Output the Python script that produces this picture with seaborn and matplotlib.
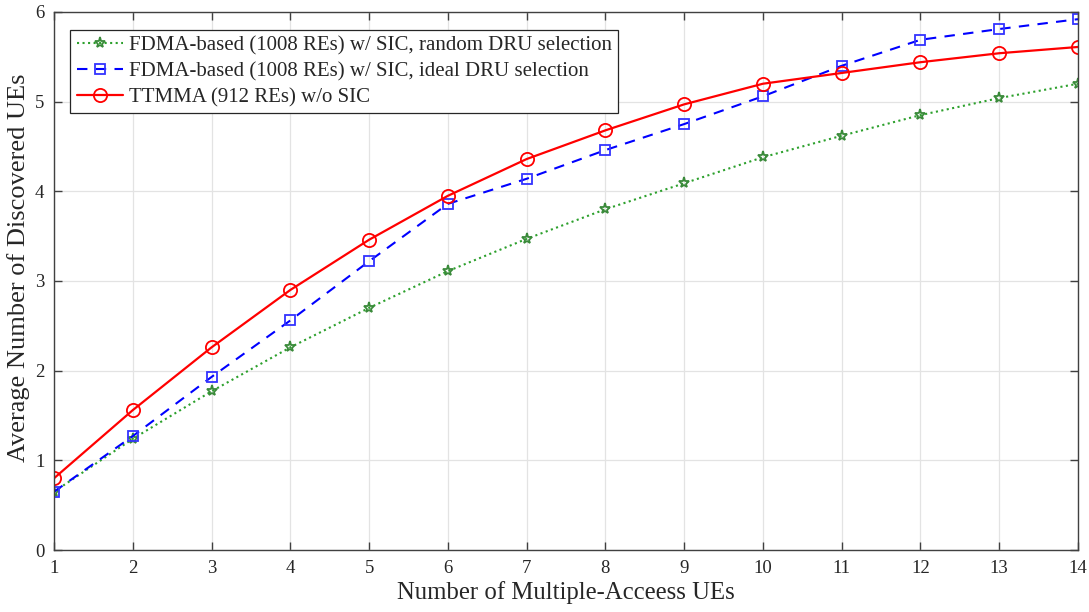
import numpy as np
import pandas as pd
import matplotlib
matplotlib.use("Agg")
import matplotlib.pyplot as plt
import seaborn as sns

x_vals = list(range(1, 15))
random_dru = [0.65, 1.24, 1.77, 2.26, 2.70, 3.11, 3.47, 3.80, 4.09, 4.38, 4.62, 4.85, 5.04, 5.20]
ideal_dru = [0.65, 1.27, 1.93, 2.56, 3.22, 3.86, 4.14, 4.46, 4.75, 5.06, 5.40, 5.69, 5.81, 5.92]
ttmma = [0.80, 1.56, 2.26, 2.90, 3.46, 3.95, 4.36, 4.68, 4.97, 5.20, 5.32, 5.44, 5.54, 5.61]
labels = ["FDMA-based (1008 REs) w/ SIC, random DRU selection",
          "FDMA-based (1008 REs) w/ SIC, ideal DRU selection",
          "TTMMA (912 REs) w/o SIC"]

sns.set_theme(style="whitegrid")
plt.rcParams['font.family'] = ['Liberation Serif', 'DejaVu Serif']

fig = plt.figure(figsize=(10.89, 6.12), dpi=100)
ax = fig.add_axes([0.0496, 0.1013, 0.9403, 0.8791])

df = pd.DataFrame({"x": x_vals * 3,
                   "y": random_dru + ideal_dru + ttmma,
                   "s": [labels[0]] * 14 + [labels[1]] * 14 + [labels[2]] * 14})

styles = [
    dict(color="#2ca02c", ls=":", marker="*", ms=8, mfc="none", mec="#3a8a3a", lw=1.5),
    dict(color="#0000ff", ls=(0, (5, 4)), marker="s", ms=6.5, mfc="none", mec="#3333ff", lw=1.5),
    dict(color="#ff0000", ls="-", marker="o", ms=9.5, mfc="none", mec="#ff0000", lw=1.6),
]
for lab, st in zip(labels, styles):
    sub = df[df.s == lab]
    sns.lineplot(data=sub, x="x", y="y", ax=ax, label=lab, color=st["color"],
                 linestyle=st["ls"], marker=st["marker"], markersize=st["ms"],
                 markerfacecolor=st["mfc"], markeredgecolor=st["mec"],
                 markeredgewidth=1.3, linewidth=st["lw"])

ax.set_xlim(1, 14)
ax.set_ylim(0, 6)
ax.set_xticks(range(1, 15))
ax.set_yticks(range(0, 7))
ax.set_facecolor("white")
ax.grid(True, color="#e3e3e3", linewidth=0.9)
for sp in ax.spines.values():
    sp.set_color("#404040")
    sp.set_linewidth(1.0)
    sp.set_visible(True)
ax.tick_params(direction="in", length=6, width=1.0, color="#404040",
               top=True, right=True, bottom=True, left=True,
               labelsize=13.5, labelcolor="#262626", pad=7)
ax.set_xlabel("Number of Multiple-Acceess UEs", fontsize=17.8, color="#262626", labelpad=3)
ax.set_ylabel("Average Number of Discovered UEs", fontsize=19, color="#262626")
ax.yaxis.set_label_coords(-0.0235, 0.524)

leg = ax.legend(loc="upper left", bbox_to_anchor=(0.012, 0.975), fontsize=15,
                frameon=True, fancybox=False, framealpha=1, edgecolor="#262626",
                handlelength=2.2, handletextpad=0.3, borderpad=0.3, labelspacing=0.3,
                borderaxespad=0.2)
leg.get_frame().set_linewidth(0.9)

fig.savefig("out.png", dpi=100)
